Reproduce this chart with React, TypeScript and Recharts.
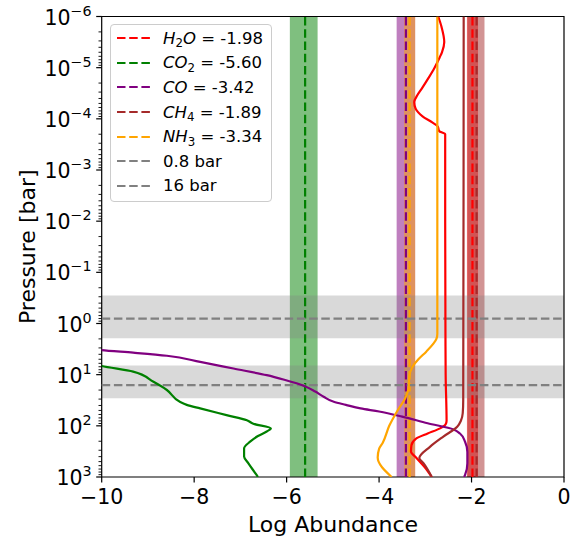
import * as React from "react";
import {
  ScatterChart,
  Scatter,
  XAxis,
  YAxis,
  ReferenceArea,
  ReferenceLine,
} from "recharts";

// retrieved abundances (log10 VMR) and their 1-sigma spreads
const SPECIES = ["H2O", "CO2", "CO", "CH4", "NH3"];
const COLORS = ["#ff0000", "#008000", "#800080", "#a52a2a", "#ffa500"];
const RETRIEVED = [-1.98, -5.6, -3.42, -1.89, -3.34];
const ERR_LOW = [0.12, 0.33, 0.2, 0.2, 0.12];
const ERR_HIGH = [0.12, 0.27, 0.2, 0.17, 0.12];

// reference pressure levels (bar) with their ranges
const PRESSURE_LEVELS = [0.8, 16];
const PRESSURE_LOW = [0.285, 6.6];
const PRESSURE_HIGH = [1.95, 28.8];

// chemistry profiles: log10 pressure -> log abundance
const H2O_P = [-6, -5.8, -5.5, -5.3, -5.2, -5.0, -4.8, -4.6, -4.45, -4.33, -4.2, -4.05, -3.93, -3.85, -3.76, -3.7, -2, 0, 1.0, 1.9, 1.97, 2.05, 2.15, 2.25, 2.38, 2.5, 2.62, 2.8, 3.0];
const H2O_A = [-2.72, -2.65, -2.59, -2.64, -2.69, -2.8, -2.93, -3.07, -3.18, -3.24, -3.21, -3.06, -2.85, -2.73, -2.7, -2.57, -2.57, -2.565, -2.56, -2.54, -2.56, -2.68, -2.95, -3.2, -3.3, -3.31, -3.2, -3.02, -2.86];

const CO2_P = [0.75, 0.83, 0.94, 1.14, 1.3, 1.53, 1.59, 1.66, 1.79, 1.89, 1.96, 2.05, 2.11, 2.2, 2.31, 2.44, 2.6, 2.73, 2.96, 3.0];
const CO2_A = [-10.3, -10, -9.32, -8.88, -8.59, -8.31, -8.16, -7.87, -7.3, -6.86, -6.72, -6.34, -6.43, -6.62, -6.79, -6.92, -6.92, -6.83, -6.65, -6.62];

const CO_P = [0.4, 0.52, 0.57, 0.63, 0.75, 0.88, 1.01, 1.1, 1.22, 1.33, 1.43, 1.53, 1.59, 1.66, 1.72, 1.82, 1.95, 2.07, 2.15, 2.31, 2.51, 2.73, 2.96, 3.0];
const CO_A = [-10.6, -10, -9.32, -8.59, -7.87, -7.15, -6.43, -6.05, -5.62, -5.38, -5.2, -4.98, -4.72, -4.4, -4.0, -3.5, -2.95, -2.39, -2.25, -2.14, -2.09, -2.09, -2.14, -2.16];

const CH4_P = [-6, 1.5, 1.75, 1.9, 2.02, 2.21, 2.41, 2.63, 2.73, 3.0];
const CH4_A = [-2.17, -2.18, -2.19, -2.23, -2.31, -2.61, -2.9, -3.13, -3.04, -2.86];

const NH3_P = [-6, 0.2, 0.3, 0.4, 0.55, 0.7, 0.85, 1.05, 1.25, 1.45, 1.7, 2.0, 2.33, 2.45, 2.62, 3.0];
const NH3_A = [-2.74, -2.74, -2.76, -2.83, -2.98, -3.15, -3.28, -3.35, -3.36, -3.43, -3.6, -3.78, -3.92, -4.0, -4.03, -3.73];

const PROFILE_P = [H2O_P, CO2_P, CO_P, CH4_P, NH3_P];
const PROFILE_A = [H2O_A, CO2_A, CO_A, CH4_A, NH3_A];

const X_TICKS = [-10, -8, -6, -4, -2, 0];
const DECADES = [-6, -5, -4, -3, -2, -1, 0, 1, 2, 3];

const FONT = "'DejaVu Sans', sans-serif";
const DASH = "8.5 3.7";
const TICK_FONT = 20.5;

const minorTicks: number[] = [];
for (let n = -6; n < 3; n++) {
  for (let k = 2; k <= 9; k++) minorTicks.push(n + Math.log10(k));
}
const yTicks = [...DECADES, ...minorTicks].sort((a, b) => a - b);

const profiles = PROFILE_P.map((ps, i) =>
  ps.map((p, j) => ({ x: PROFILE_A[i][j], y: p }))
);

const minus = (n: number) => (n < 0 ? "\u2212" + Math.abs(n) : String(n));

function AbundanceTick(props: any) {
  const { x, y, payload } = props;
  return (
    <g>
      <line x1={x} x2={x} y1={y} y2={y + 5.5} stroke="#000" strokeWidth={1.2} />
      <text x={x} y={y + 26.5} textAnchor="middle" fontSize={TICK_FONT} fontFamily={FONT} fill="#000">
        {minus(payload.value)}
      </text>
    </g>
  );
}

function PressureTick(props: any) {
  const { x, y, payload } = props;
  const v = payload.value;
  const major = Math.abs(v - Math.round(v)) < 1e-9;
  const len = major ? 5.5 : 3.2;
  return (
    <g>
      <line x1={x - len} x2={x} y1={y} y2={y} stroke="#000" strokeWidth={major ? 1.2 : 0.9} />
      {major && (
        <text x={x - 10} y={y + 8} textAnchor="end" fontSize={TICK_FONT} fontFamily={FONT} fill="#000">
          10
          <tspan dy={-9} fontSize={14.3}>
            {minus(Math.round(v))}
          </tspan>
        </text>
      )}
    </g>
  );
}

const XTitle = () => (
  <text x={333} y={531.5} textAnchor="middle" fontSize={22} fontFamily={FONT} fill="#000">
    Log Abundance
  </text>
);

const YTitle = () => (
  <text
    x={35}
    y={246.75}
    transform="rotate(-90 35 246.75)"
    textAnchor="middle"
    fontSize={22}
    fontFamily={FONT}
    fill="#000"
  >
    Pressure [bar]
  </text>
);

const NoDot = () => <g />;

// "H2O" -> italic letters with upright subscript digits
function Formula({ name }: { name: string }) {
  const parts = name.match(/[A-Za-z]+|\d+/g) || [];
  return (
    <>
      {parts.map((s, i) =>
        /\d/.test(s) ? (
          <span key={i} style={{ fontSize: 11.8, position: "relative", top: 3.5 }}>
            {s}
          </span>
        ) : (
          <span key={i} style={{ fontStyle: "italic" }}>
            {s}
          </span>
        )
      )}
    </>
  );
}

function LegendBox() {
  const rows = [
    ...SPECIES.map((s, i) => ({
      color: COLORS[i],
      label: (
        <>
          <Formula name={s} /> = {RETRIEVED[i].toFixed(2)}
        </>
      ),
    })),
    ...PRESSURE_LEVELS.map((p) => ({ color: "#808080", label: <>{p} bar</> })),
  ];
  return (
    <div
      style={{
        position: "absolute",
        left: 110,
        top: 24.3,
        width: 161.7,
        height: 177.7,
        boxSizing: "border-box",
        border: "1px solid #cccccc",
        borderRadius: 4,
        background: "rgba(255,255,255,0.8)",
        fontFamily: FONT,
        fontSize: 16.5,
        color: "#000",
      }}
    >
      {rows.map((r, i) => (
        <div
          key={i}
          style={{
            position: "absolute",
            left: 0,
            top: 0.7 + i * 24.6,
            height: 24.6,
            width: "100%",
            display: "flex",
            alignItems: "center",
            whiteSpace: "nowrap",
          }}
        >
          <svg width={33} height={6} style={{ position: "absolute", left: 6, top: 9.3 }}>
            <line x1={0} x2={33} y1={3} y2={3} stroke={r.color} strokeWidth={2.2} strokeDasharray={DASH} />
          </svg>
          <span style={{ position: "absolute", left: 52 }}>{r.label}</span>
        </div>
      ))}
    </div>
  );
}

export default function App() {
  // pinned to the page origin, independent of the body margin
  return (
    <div
      style={{
        position: "absolute",
        left: 0,
        top: 0,
        width: 570,
        height: 538,
        overflow: "hidden",
        background: "#fff",
      }}
    >
      <style>{".recharts-wrapper, .recharts-surface { overflow: visible !important; }"}</style>
      <ScatterChart
        width={570}
        height={538}
        margin={{ top: 16.5, right: 6, bottom: 11, left: 41.7 }}
      >
        <XAxis
          type="number"
          dataKey="x"
          domain={[-10, 0]}
          ticks={X_TICKS}
          interval={0}
          allowDataOverflow
          axisLine={false}
          tickLine={false}
          tickSize={0}
          tickMargin={0}
          height={50}
          tick={AbundanceTick}
          label={XTitle}
        />
        <YAxis
          type="number"
          dataKey="y"
          domain={[-6, 3]}
          reversed
          ticks={yTicks}
          interval={0}
          allowDataOverflow
          axisLine={false}
          tickLine={false}
          tickSize={0}
          tickMargin={0}
          width={60}
          tick={PressureTick}
          label={YTitle}
        />

        {SPECIES.map((s, i) => (
          <ReferenceArea
            key={"band-" + s}
            x1={RETRIEVED[i] - ERR_LOW[i]}
            x2={RETRIEVED[i] + ERR_HIGH[i]}
            fill={COLORS[i]}
            fillOpacity={0.5}
            stroke="none"
          />
        ))}
        {PRESSURE_LEVELS.map((p, i) => (
          <ReferenceArea
            key={"pband-" + p}
            y1={Math.log10(PRESSURE_LOW[i])}
            y2={Math.log10(PRESSURE_HIGH[i])}
            fill="#808080"
            fillOpacity={0.3}
            stroke="none"
          />
        ))}

        {SPECIES.map((s, i) => (
          <Scatter
            key={"prof-" + s}
            data={profiles[i]}
            line={{ stroke: COLORS[i], strokeWidth: 2.2 }}
            lineType="joint"
            lineJointType="monotoneY"
            shape={NoDot}
            fill={COLORS[i]}
            isAnimationActive={false}
          />
        ))}

        {SPECIES.map((s, i) => (
          <ReferenceLine
            key={"ret-" + s}
            x={RETRIEVED[i]}
            stroke={COLORS[i]}
            strokeWidth={2.2}
            strokeDasharray={DASH}
          />
        ))}
        {PRESSURE_LEVELS.map((p) => (
          <ReferenceLine
            key={"lvl-" + p}
            y={Math.log10(p)}
            stroke="#808080"
            strokeWidth={2.2}
            strokeDasharray={DASH}
          />
        ))}

        <ReferenceArea x1={-10} x2={0} y1={-6} y2={3} fill="none" stroke="#000" strokeWidth={1.2} />
      </ScatterChart>
      <LegendBox />
    </div>
  );
}
